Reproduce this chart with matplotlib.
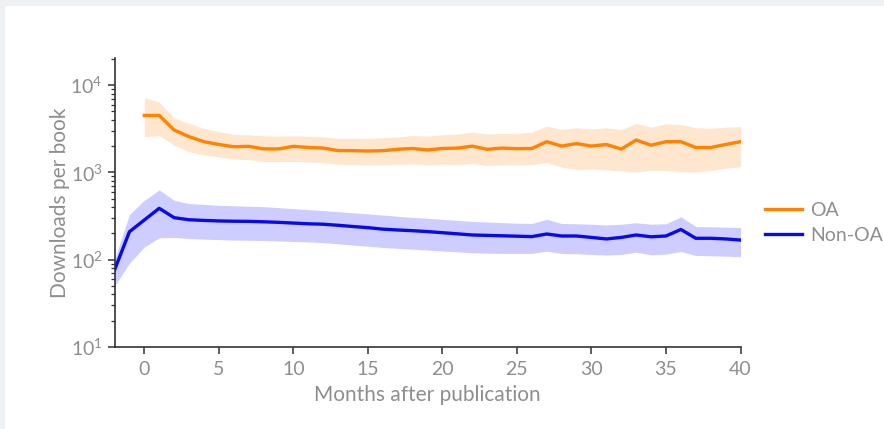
import numpy as np
import matplotlib
matplotlib.use("Agg")
import matplotlib.pyplot as plt
from matplotlib.patches import Rectangle
from matplotlib.ticker import LogLocator, NullFormatter

# Monthly download statistics per book
months_oa = list(range(0, 41))
oa_mean = [4500, 4500, 3060, 2570, 2250, 2090, 1970, 1990, 1860, 1860,
           1990, 1935, 1900, 1780, 1775, 1760, 1775, 1840, 1880, 1810,
           1880, 1900, 2000, 1840, 1900, 1870, 1880, 2250, 2005, 2140,
           2005, 2090, 1850, 2350, 2050, 2250, 2250, 1930, 1930, 2090,
           2250]
oa_upper = [7200, 6400, 4200, 3650, 3200, 2920, 2730, 2700, 2620, 2600,
            2620, 2600, 2560, 2450, 2450, 2450, 2500, 2550, 2650, 2600,
            2700, 2750, 2900, 2750, 2800, 2800, 2900, 3400, 3100, 3250,
            3150, 3250, 3100, 3650, 3300, 3600, 3550, 3250, 3200, 3300,
            3350]
oa_lower = [2550, 2650, 2050, 1730, 1580, 1510, 1420, 1400, 1340, 1330,
            1340, 1320, 1290, 1240, 1230, 1220, 1220, 1240, 1250, 1220,
            1240, 1230, 1260, 1200, 1220, 1220, 1230, 1300, 1150, 1080,
            1100, 1070, 1040, 1010, 1060, 1050, 1020, 1010, 1050, 1120,
            1160]

months_non = list(range(-2, 41))
non_mean = [76, 209, 285, 388, 303, 287, 282, 278, 276, 275,
            272, 268, 263, 258, 255, 248, 240, 233, 224, 219,
            215, 210, 204, 198, 192, 190, 188, 186, 184, 197,
            187, 187, 180, 173, 180, 192, 183, 187, 222, 176,
            176, 173, 168]
non_upper = [100, 330, 480, 630, 480, 440, 430, 420, 415, 410,
             405, 395, 385, 375, 365, 355, 345, 335, 325, 315,
             305, 298, 290, 282, 275, 270, 266, 262, 260, 290,
             260, 258, 255, 250, 255, 265, 255, 258, 310, 240,
             238, 236, 234]
non_lower = [50, 91, 140, 178, 180, 175, 172, 170, 168, 167,
             166, 164, 162, 160, 157, 152, 147, 143, 138, 135,
             132, 129, 126, 123, 120, 119, 118, 118, 118, 125,
             118, 117, 115, 113, 115, 122, 114, 116, 124, 112,
             111, 110, 108]

x_ticks = [0, 5, 10, 15, 20, 25, 30, 35, 40]

plt.rcParams['font.family'] = ['Lato', 'DejaVu Sans']
text_gray = '#8e8e8e'
oa_color = '#ff8200'
non_color = '#0a0ae8'

fig = plt.figure(figsize=(8.84, 4.29), dpi=100)
fig.patch.set_facecolor('#edf1f4')
fig.patches.append(Rectangle((5 / 884, 0), 1, 1 - 6 / 429, transform=fig.transFigure,
                             facecolor='white', edgecolor='none', zorder=-10))

ax = fig.add_axes([114.5 / 884, 1 - 347 / 429, (740.5 - 114.5) / 884, (347 - 58.3) / 429])
ax.set_facecolor('none')
ax.set_zorder(5)

ax.fill_between(months_oa, oa_lower, oa_upper, color='#ff9a33', alpha=0.24, linewidth=0)
ax.fill_between(months_non, non_lower, non_upper, color='#3a3aff', alpha=0.25, linewidth=0)
ax.plot(months_oa, oa_mean, color=oa_color, lw=2.4, label='OA', solid_joinstyle='round')
ax.plot(months_non, non_mean, color=non_color, lw=2.4, label='Non-OA', solid_joinstyle='round')

ax.set_yscale('log')
ax.set_ylim(10, 2.03e4)
ax.set_xlim(-2, 40)
ax.set_xticks(x_ticks)
ax.yaxis.set_minor_locator(LogLocator(base=10, subs=np.arange(2, 10)))
ax.yaxis.set_minor_formatter(NullFormatter())

for side in ('top', 'right'):
    ax.spines[side].set_visible(False)
for side in ('left', 'bottom'):
    ax.spines[side].set_color('#333333')
    ax.spines[side].set_linewidth(1.2)

ax.tick_params(axis='both', which='major', colors='#333333', labelcolor=text_gray,
               labelsize=14, length=5, width=1.1)
ax.tick_params(axis='x', which='major', pad=5)
ax.tick_params(axis='y', which='minor', colors='#333333', length=3, width=0.9)

ax.set_xlabel('Months after publication', color=text_gray, fontsize=15, labelpad=5)
ax.set_ylabel('Downloads per book', color=text_gray, fontsize=15, labelpad=0)

leg = ax.legend(loc='center left', bbox_to_anchor=(755 / 884, 1 - 223 / 429),
                bbox_transform=fig.transFigure, frameon=False, fontsize=14,
                handlelength=1.9, handletextpad=0.45, borderpad=0, labelspacing=0.4)
for t in leg.get_texts():
    t.set_color(text_gray)

fig.savefig('out.png', dpi=100)
